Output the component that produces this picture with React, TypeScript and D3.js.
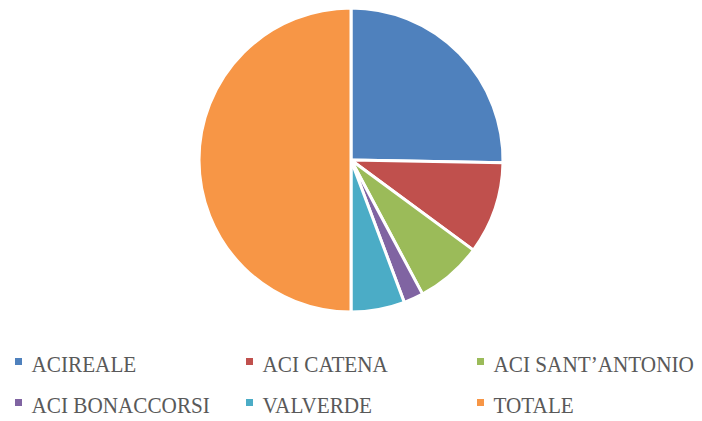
import React, { useEffect, useRef } from 'react';
import * as d3 from 'd3';

// quote: ’ in SANT’ANTONIO
const categories = ['ACIREALE', 'ACI CATENA', 'ACI SANT\u2019ANTONIO', 'ACI BONACCORSI', 'VALVERDE', 'TOTALE'];
const values = [25.3, 9.8, 7.1, 2.1, 5.7, 50.0];
const colors = ['#4F81BD', '#C0504D', '#9BBB59', '#8064A2', '#4BACC6', '#F79646'];

const App = () => {
    const svgRef = useRef<SVGSVGElement | null>(null);

    useEffect(() => {
        const svg = d3.select(svgRef.current);
        svg.selectAll('*').remove();
        const width = 702;
        const height = 421;
        const cx = 351;
        const cy = 160;
        const radius = 152;

        const data = categories.map((name, i) => ({ name, value: values[i], color: colors[i] }));
        const pie = d3.pie<any>().sort(null).value(d => d.value);
        const arc = d3.arc<any>().innerRadius(0).outerRadius(radius);

        svg.attr('width', width).attr('height', height);

        svg.append('g')
            .attr('transform', `translate(${cx},${cy})`)
            .selectAll('path')
            .data(pie(data))
            .enter()
            .append('path')
            .attr('d', arc)
            .attr('fill', d => d.data.color)
            .attr('stroke', '#fff')
            .attr('stroke-width', 3)
            .attr('stroke-linejoin', 'round');

        // legend, 3 columns x 2 rows
        const colX = [15, 246, 477];
        const rowY = [358, 399];
        const legend = svg.append('g')
            .selectAll('g')
            .data(data)
            .enter()
            .append('g')
            .attr('transform', (d, i) => `translate(${colX[i % 3]},${rowY[Math.floor(i / 3)]})`);
        legend.append('rect')
            .attr('width', 7)
            .attr('height', 7)
            .attr('fill', d => d.color);
        // glyphs in the reference are taller and narrower than Liberation Serif
        legend.append('text')
            .attr('transform', 'translate(16.5,13.8) scale(0.91,1)')
            .attr('font-family', '"Liberation Serif", serif')
            .attr('font-size', 23.3)
            .attr('fill', '#595959')
            .text(d => d.name);
    }, []);

    return (
        <svg ref={svgRef} width="702" height="421" style={{ position: 'absolute', left: 0, top: 0 }}></svg>
    );
};

export default App;
